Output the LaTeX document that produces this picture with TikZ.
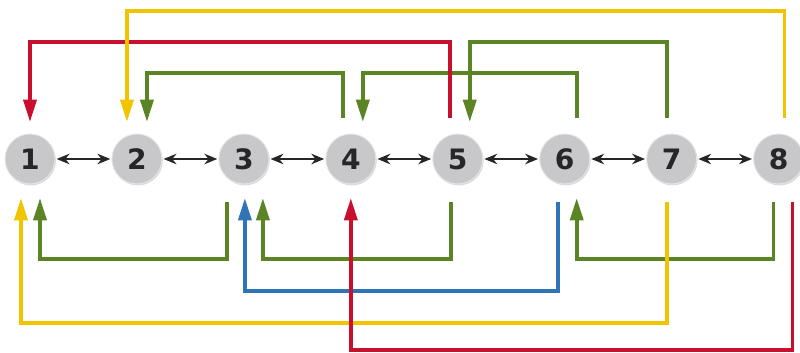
\documentclass[tikz,border=0pt]{standalone}
\usepackage{fontspec}
\setsansfont{DejaVu Sans}
\usetikzlibrary{arrows.meta,positioning,calc,shadows}
\definecolor{nodegray}{HTML}{C8C8CA}
\definecolor{linkred}{HTML}{C8102E}
\definecolor{linkyellow}{HTML}{F0C400}
\definecolor{linkgreen}{HTML}{5B8424}
\definecolor{linkblue}{HTML}{2F74B5}

\begin{document}
\begin{tikzpicture}[x=0.03cm,y=0.03cm,peer/.style={circle,fill=nodegray,draw=gray!20,line width=0.8pt,minimum size=1.5cm,inner sep=0pt,font=\sffamily\bfseries\fontsize{24}{24}\selectfont,text=black!85,drop shadow={opacity=0.3,shadow xshift=0.8pt,shadow yshift=-1.2pt}},link/.style={{Stealth[length=11pt,width=9pt]}-{Stealth[length=11pt,width=9pt]},line width=1.5pt,black!85,shorten <=1pt,shorten >=1pt},route/.style={line width=3.2pt,-{Triangle[length=19pt,width=11pt]}},node distance=1.68cm]
\useasboundingbox (0,0) rectangle (800,352);
\node[peer] (n1) at (30,193) {1};
\node[peer,right=of n1] (n2) {2};
\node[peer,right=of n2] (n3) {3};
\node[peer,right=of n3] (n4) {4};
\node[peer,right=of n4] (n5) {5};
\node[peer,right=of n5] (n6) {6};
\node[peer,right=of n6] (n7) {7};
\node[peer,right=of n7] (n8) {8};
\draw[link] (n1)--(n2);
\draw[link] (n2)--(n3);
\draw[link] (n3)--(n4);
\draw[link] (n4)--(n5);
\draw[link] (n5)--(n6);
\draw[link] (n6)--(n7);
\draw[link] (n7)--(n8);
% above the row
\draw[route,linkgreen] ($(n7)+(-5,41)$) |- ($(n5)+(12,117)$) -- ($(n5)+(12,37)$);
\draw[route,linkgreen] ($(n4)+(-8,41)$) |- ($(n2)+(10,86)$) -- ($(n2)+(10,37)$);
\draw[route,linkgreen] ($(n6)+(12,41)$) |- ($(n4)+(12,86)$) -- ($(n4)+(12,37)$);
\draw[route,linkred] ($(n5)+(-8,41)$) |- ($(n1)+(0,117)$) -- ($(n1)+(0,37)$);
\draw[route,linkyellow] ($(n8)+(6,41)$) |- ($(n2)+(-10,148)$) -- ($(n2)+(-10,37)$);
% below the row
\draw[route,linkgreen] ($(n3)+(-17,-43)$) |- ($(n1)+(10,-100)$) -- ($(n1)+(10,-39)$);
\draw[route,linkgreen] ($(n5)+(-7,-43)$) |- ($(n3)+(19,-100)$) -- ($(n3)+(19,-39)$);
\draw[route,linkgreen] ($(n8)+(-5,-43)$) |- ($(n6)+(12,-100)$) -- ($(n6)+(12,-39)$);
\draw[route,linkblue] ($(n6)+(-7,-43)$) |- ($(n3)+(1,-132)$) -- ($(n3)+(1,-39)$);
\draw[route,linkyellow] ($(n7)+(-5,-43)$) |- ($(n1)+(-9,-164)$) -- ($(n1)+(-9,-39)$);
\draw[route,linkred] ($(n8)+(14,-43)$) |- ($(n4)+(0,-191)$) -- ($(n4)+(0,-39)$);
\end{tikzpicture}
\end{document}
